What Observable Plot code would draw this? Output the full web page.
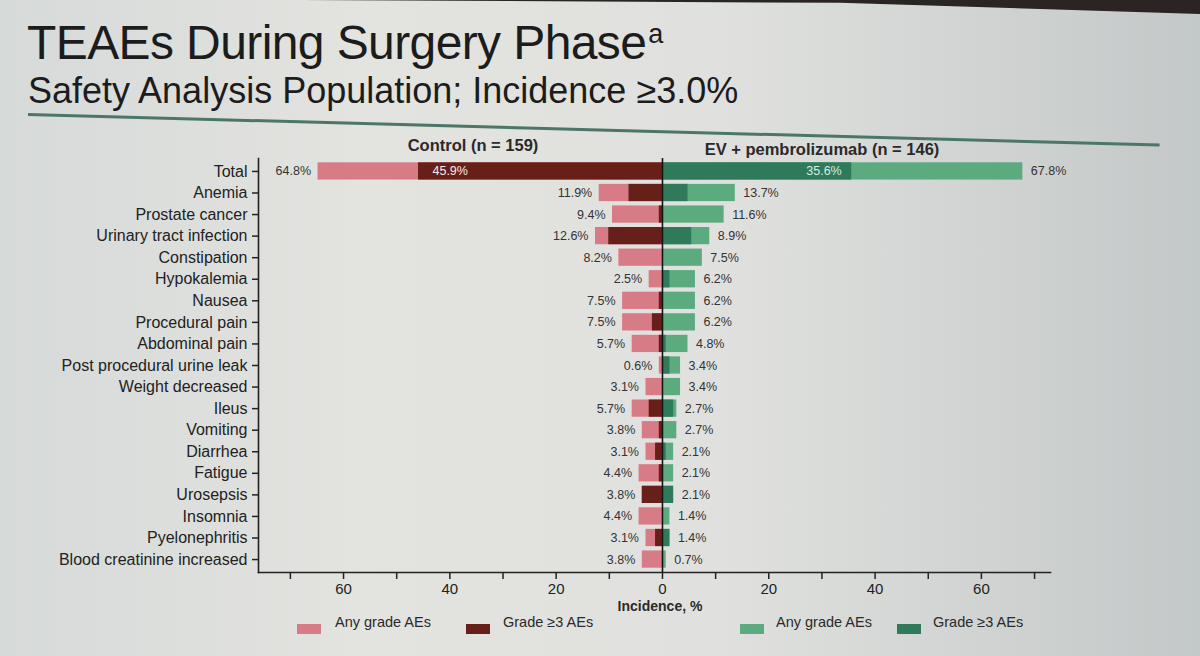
<!DOCTYPE html>
<html><head><meta charset="utf-8">
<script src="https://cdn.jsdelivr.net/npm/d3@7"></script>
<script src="https://cdn.jsdelivr.net/npm/@observablehq/plot@0.6"></script>
<style>
html,body{margin:0;padding:0;}
body{width:1200px;height:656px;overflow:hidden;position:relative;font-family:"Liberation Sans",Arial,Helvetica,sans-serif;color:#222;
background:linear-gradient(90deg,#d6dad9 0%,#e3e3df 30%,#e0e1de 60%,#c3c8c8 100%);}
.topband{position:absolute;left:300px;top:0;width:900px;height:14px;background:#2a2522;clip-path:polygon(0 0,100% 0,100% 100%,60% 20%,0 0);}
.title{position:absolute;left:27px;top:15px;font-size:48px;letter-spacing:-0.6px;color:#1c1c1c;white-space:nowrap;}
.title sup{font-size:27px;vertical-align:top;position:relative;top:4px;margin-left:2px;}
.subtitle{position:absolute;left:28px;top:70px;font-size:36px;color:#1c1c1c;white-space:nowrap;}
.rule{position:absolute;left:28px;top:113px;width:1132px;height:3px;background:#4b7668;transform-origin:0 0;transform:rotate(1.55deg);}
.head{position:absolute;font-weight:bold;font-size:16.5px;line-height:19px;color:#2a2a2a;white-space:nowrap;transform:translateX(-50%);}
#chart{position:absolute;left:0;top:130px;}
.xlab{position:absolute;left:660px;top:599px;transform:translateX(-50%);font-weight:bold;font-size:14px;line-height:15px;color:#2a2a2a;}
.leg{position:absolute;top:614px;font-size:14.5px;color:#2a2a2a;white-space:nowrap;}
.sw{position:absolute;top:624px;width:24px;height:10px;}
</style></head>
<body>
<div class="topband"></div>
<div class="title">TEAEs During Surgery Phase<sup>a</sup></div>
<div class="subtitle">Safety Analysis Population; Incidence ≥3.0%</div>
<div class="rule"></div>
<div class="head" style="left:473px;top:136px;">Control (n = 159)</div>
<div class="head" style="left:822px;top:140px;">EV + pembrolizumab (n = 146)</div>
<div id="chart"></div>
<div class="xlab">Incidence, %</div>
<div class="sw" style="left:297px;background:#d77c86;"></div><div class="leg" style="left:335px;">Any grade AEs</div>
<div class="sw" style="left:466px;background:#671f19;"></div><div class="leg" style="left:503px;">Grade ≥3 AEs</div>
<div class="sw" style="left:740px;background:#5bab7f;"></div><div class="leg" style="left:776px;">Any grade AEs</div>
<div class="sw" style="left:897px;background:#2e7a5b;"></div><div class="leg" style="left:933px;">Grade ≥3 AEs</div>
<script>
const categories = ["Total","Anemia","Prostate cancer","Urinary tract infection","Constipation","Hypokalemia","Nausea","Procedural pain","Abdominal pain","Post procedural urine leak","Weight decreased","Ileus","Vomiting","Diarrhea","Fatigue","Urosepsis","Insomnia","Pyelonephritis","Blood creatinine increased"];
const controlAny = [64.8,11.9,9.4,12.6,8.2,2.5,7.5,7.5,5.7,0.6,3.1,5.7,3.8,3.1,4.4,3.8,4.4,3.1,3.8];
const controlG3  = [45.9,6.3,0.6,10.1,0,0,0.6,1.9,0.6,0,0,2.5,0.6,1.3,0.6,3.8,0,1.3,0];
const evAny      = [67.8,13.7,11.6,8.9,7.5,6.2,6.2,6.2,4.8,3.4,3.4,2.7,2.7,2.1,2.1,2.1,1.4,1.4,0.7];
const evG3       = [35.6,4.8,0,5.5,0,1.4,0,0,0.7,1.4,0,2.1,0,0.7,0,2.1,0,1.4,0];
const xTicks = [-70,-60,-50,-40,-30,-20,-10,0,10,20,30,40,50,60,70];
const xLabeled = [-60,-40,-20,0,20,40,60];

const rows = categories.map((c,i)=>({category:c,cAny:controlAny[i],cG3:controlG3[i],eAny:evAny[i],eG3:evG3[i]}));
const totalRows = rows.filter(d=>d.category==="Total");
const pct = v => v.toFixed(1)+"%";

const chart = Plot.plot({
  width:1200, height:490,
  marginLeft:258, marginRight:150, marginTop:28, marginBottom:48,
  style:{background:"transparent", fontFamily:"'Liberation Sans', Arial, sans-serif", color:"#222"},
  x:{domain:[-76,73]},
  y:{domain:categories, padding:0.2, round:false},
  marks:[
    Plot.barX(rows,{y:"category", x1:d=>-d.cAny, x2:0, fill:"#d77c86"}),
    Plot.barX(rows,{y:"category", x1:d=>-d.cG3, x2:0, fill:"#671f19"}),
    Plot.barX(rows,{y:"category", x1:0, x2:"eAny", fill:"#5bab7f"}),
    Plot.barX(rows,{y:"category", x1:0, x2:"eG3", fill:"#2e7a5b"}),
    Plot.ruleX([0],{stroke:"#151515", strokeWidth:1.6}),
    Plot.frame({anchor:"left", stroke:"#222", strokeWidth:1.6}),
    Plot.frame({anchor:"bottom", stroke:"#222", strokeWidth:1.6}),
    Plot.text(rows,{y:"category", x:d=>-d.cAny, dx:-7, textAnchor:"end", text:d=>pct(d.cAny), fontSize:12.5, fill:"#333"}),
    Plot.text(rows,{y:"category", x:"eAny", dx:8, textAnchor:"start", text:d=>pct(d.eAny), fontSize:12.5, fill:"#333"}),
    Plot.text(totalRows,{y:"category", x:d=>-d.cG3, dx:14, textAnchor:"start", text:d=>pct(d.cG3), fontSize:12.5, fill:"#f4eaea"}),
    Plot.text(totalRows,{y:"category", x:"eG3", dx:-10, textAnchor:"end", text:d=>pct(d.eG3), fontSize:12.5, fill:"#d8ebe0"}),
    Plot.axisY({tickSize:6, tickPadding:5, fontSize:16, label:null, stroke:"#222", strokeWidth:1.5}),
    Plot.axisX({ticks:xTicks, tickSize:7, tickPadding:4, fontSize:15, label:null, stroke:"#222", strokeWidth:1.5,
      tickFormat:d=> xLabeled.includes(d) ? String(Math.abs(d)) : ""})
  ]
});
document.getElementById("chart").appendChild(chart);
</script>
</body></html>
